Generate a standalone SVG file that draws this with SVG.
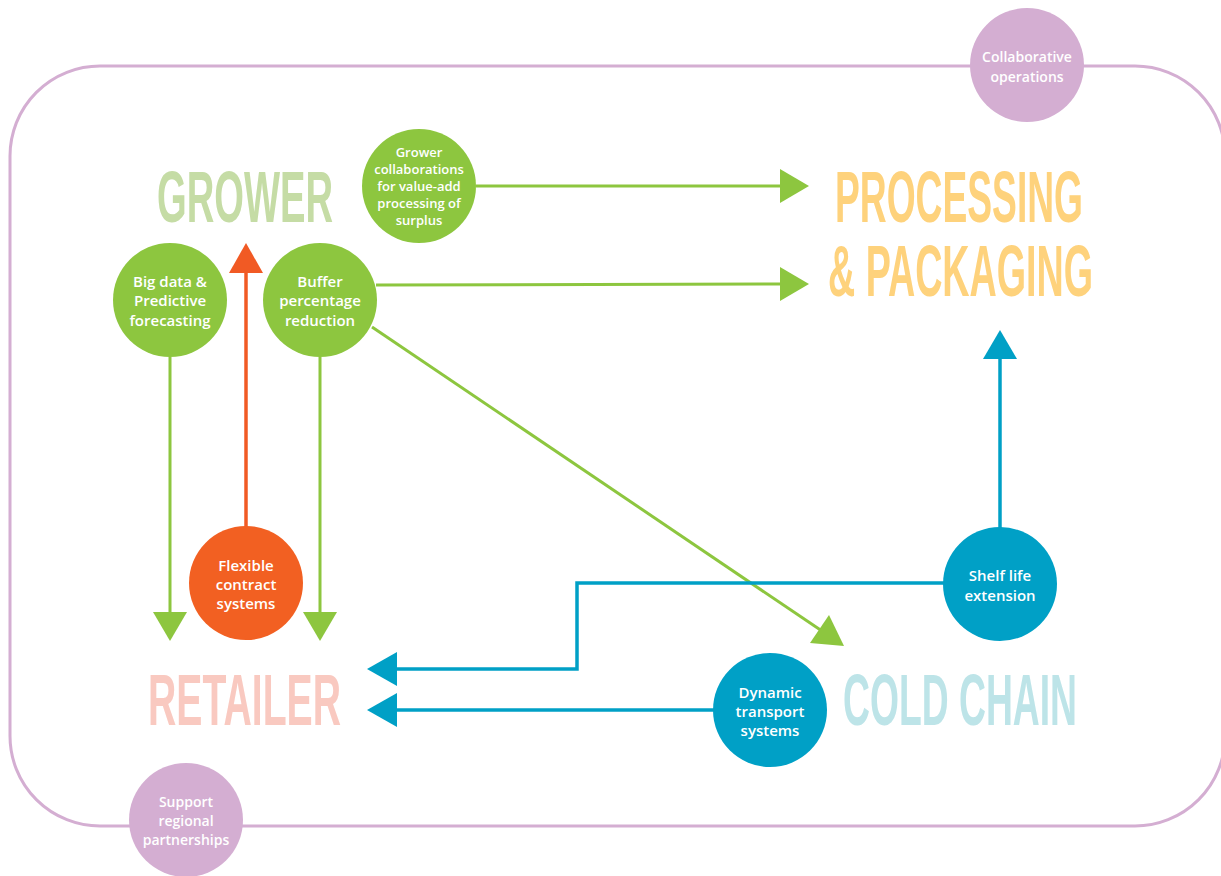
<svg xmlns="http://www.w3.org/2000/svg" width="1221" height="876" viewBox="0 0 1221 876">
<style>
.lbl{font-family:"Open Sans","Liberation Sans",sans-serif;font-weight:600;fill:#ffffff;text-anchor:middle}
.s15{font-size:15px}
.s14{font-size:14px}
.s13{font-size:13px}
.head{font-family:"Liberation Sans","DejaVu Sans",sans-serif;font-size:72px;font-weight:bold}
.g{stroke:#8dc63f;stroke-width:3;fill:none}
.b{stroke:#00a0c6;stroke-width:3.5;fill:none}
.o{stroke:#f15a24;stroke-width:3.5;fill:none}
</style>
<rect x="0" y="0" width="1221" height="876" fill="#ffffff"/>
<rect x="10" y="66" width="1215" height="760" rx="90" ry="90" fill="none" stroke="#d4aed2" stroke-width="3"/>

<g id="connectors">
  <line class="g" x1="476" y1="186" x2="782" y2="186"/>
  <polygon points="780,169 809,186 780,203" fill="#8dc63f"/>
  <line class="g" x1="376" y1="285" x2="782" y2="284"/>
  <polygon points="780,267 809,284 780,301" fill="#8dc63f"/>
  <line class="g" x1="372" y1="327" x2="822" y2="631"/>
  <polygon points="810,643 829,615 844,646" fill="#8dc63f"/>
  <line class="g" x1="170" y1="357" x2="170" y2="614"/>
  <polygon points="153,612 187,612 170,641" fill="#8dc63f"/>
  <line class="g" x1="320" y1="357" x2="320" y2="614"/>
  <polygon points="303,612 337,612 320,641" fill="#8dc63f"/>
  <line class="o" x1="246" y1="527" x2="246" y2="271"/>
  <polygon points="229,273 263,273 246,243" fill="#f15a24"/>
  <line class="b" x1="1000" y1="528" x2="1000" y2="357"/>
  <polygon points="983,359 1017,359 1000,330" fill="#00a0c6"/>
  <polyline class="b" points="944,583 577,583 577,669 395,669"/>
  <polygon points="397,652 397,686 367,669" fill="#00a0c6"/>
  <line class="b" x1="714" y1="710" x2="395" y2="710"/>
  <polygon points="397,693 397,727 367,710" fill="#00a0c6"/>
</g>

<g id="grower"><text class="head" x="157" y="222" fill="#c5dca5" textLength="176" lengthAdjust="spacingAndGlyphs">GROWER</text></g>
<g id="processing">
  <text class="head" x="835" y="222" fill="#fed27c" textLength="248" lengthAdjust="spacingAndGlyphs">PROCESSING</text>
  <text class="head" x="828" y="296" fill="#fed27c" textLength="265" lengthAdjust="spacingAndGlyphs">&amp; PACKAGING</text>
</g>
<g id="retailer"><text class="head" x="148" y="725" fill="#f9c9c0" textLength="193" lengthAdjust="spacingAndGlyphs">RETAILER</text></g>
<g id="coldchain"><text class="head" x="843" y="725" fill="#bde4e8" textLength="234" lengthAdjust="spacingAndGlyphs">COLD CHAIN</text></g>

<g id="collab-ops">
  <circle cx="1027" cy="65" r="57" fill="#d4aed2"/>
  <text class="lbl s14" x="1027" y="62">Collaborative</text>
  <text class="lbl s14" x="1027" y="82">operations</text>
</g>
<g id="support-regional">
  <circle cx="186" cy="820" r="57" fill="#d4aed2"/>
  <text class="lbl s14" x="186" y="807">Support</text>
  <text class="lbl s14" x="186" y="826">regional</text>
  <text class="lbl s14" x="186" y="845">partnerships</text>
</g>
<g id="grower-collab">
  <circle cx="419" cy="186" r="57" fill="#8dc63f"/>
  <text class="lbl s13" x="419" y="157">Grower</text>
  <text class="lbl s13" x="419" y="174">collaborations</text>
  <text class="lbl s13" x="419" y="191">for value-add</text>
  <text class="lbl s13" x="419" y="208">processing of</text>
  <text class="lbl s13" x="419" y="225">surplus</text>
</g>
<g id="big-data">
  <circle cx="170" cy="300" r="57" fill="#8dc63f"/>
  <text class="lbl s15" x="170" y="287">Big data &amp;</text>
  <text class="lbl s15" x="170" y="306">Predictive</text>
  <text class="lbl s15" x="170" y="326">forecasting</text>
</g>
<g id="buffer">
  <circle cx="320" cy="300" r="57" fill="#8dc63f"/>
  <text class="lbl s15" x="320" y="287">Buffer</text>
  <text class="lbl s15" x="320" y="306">percentage</text>
  <text class="lbl s15" x="320" y="326">reduction</text>
</g>
<g id="flexible">
  <circle cx="246" cy="583" r="57" fill="#f26022"/>
  <text class="lbl s15" x="246" y="571">Flexible</text>
  <text class="lbl s15" x="246" y="590">contract</text>
  <text class="lbl s15" x="246" y="609">systems</text>
</g>
<g id="shelf-life">
  <circle cx="1000" cy="584" r="57" fill="#00a0c6"/>
  <text class="lbl s15" x="1000" y="581">Shelf life</text>
  <text class="lbl s15" x="1000" y="601">extension</text>
</g>
<g id="dynamic">
  <circle cx="770" cy="710" r="57" fill="#00a0c6"/>
  <text class="lbl s15" x="770" y="698">Dynamic</text>
  <text class="lbl s15" x="770" y="717">transport</text>
  <text class="lbl s15" x="770" y="736">systems</text>
</g>
</svg>
